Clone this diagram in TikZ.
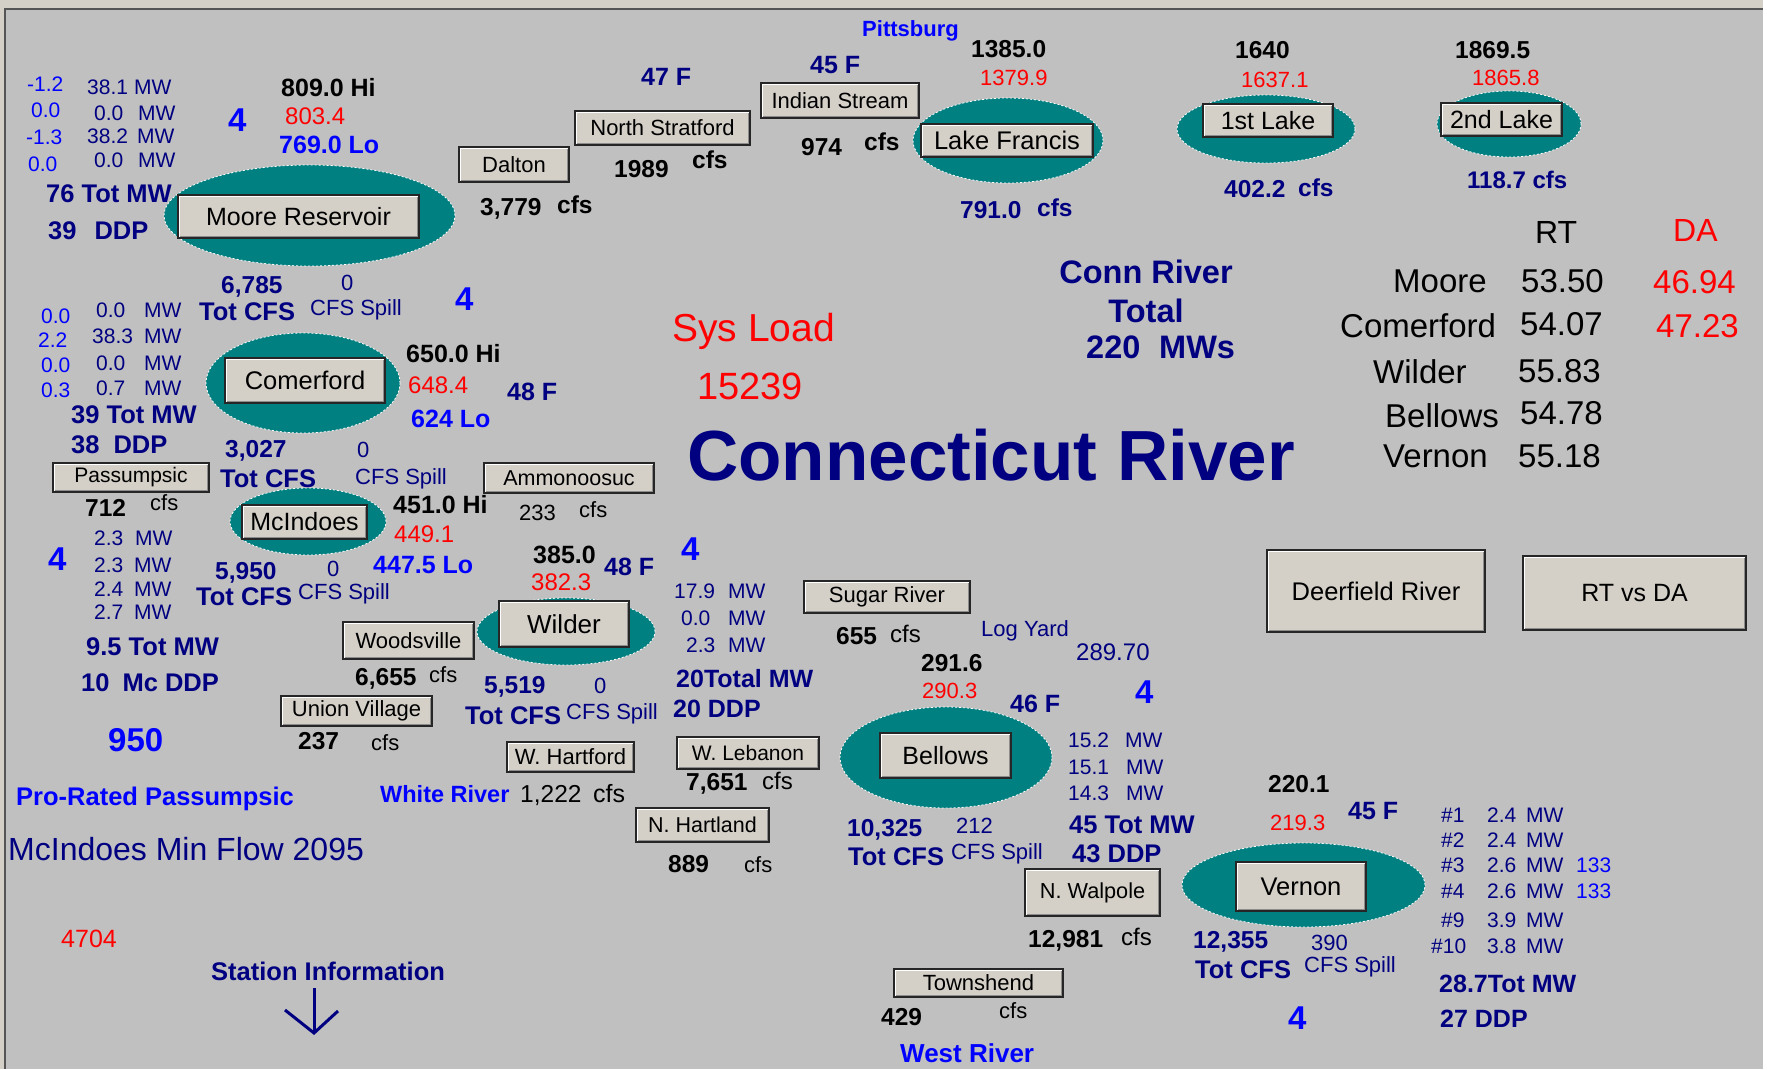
\documentclass[tikz,border=0pt]{standalone}
\usepackage{fontspec}
\setmainfont{Liberation Sans}
\usetikzlibrary{shapes.geometric}
\newcommand\fsz[1]{\fontsize{#1}{#1}\selectfont}
\definecolor{bgc}{HTML}{C0C0C0}
\definecolor{pondc}{HTML}{008080}
\definecolor{navyc}{HTML}{000080}
\definecolor{bluec}{HTML}{0000FF}
\definecolor{redc}{HTML}{FF0000}
\definecolor{btnface}{HTML}{D4D0C8}
\definecolor{framec}{HTML}{555555}
\tikzset{
  pond/.style={ellipse,fill=pondc,draw=white,dash pattern=on 2pt off 2pt,line width=0.8pt,inner sep=0pt},
  btn/.style={draw=black!85,fill=btnface,line width=1.2pt,inner sep=0pt,font=\fsz{#1},text=black,
    path picture={
      \draw[white,line width=1.5pt] ([shift={(1.5pt,1.5pt)}]path picture bounding box.south west) |- ([shift={(-1.5pt,-1.5pt)}]path picture bounding box.north east);
      \draw[black!45,line width=1.5pt] ([shift={(1.5pt,1.5pt)}]path picture bounding box.south west) -| ([shift={(-1.5pt,-1.5pt)}]path picture bounding box.north east);
    }},
  btn/.default=22,
  kb/.style={anchor=base west,inner sep=0pt,text=black,font=\fsz{#1}\bfseries}, kb/.default=24.5,
  nb/.style={anchor=base west,inner sep=0pt,text=navyc,font=\fsz{#1}\bfseries}, nb/.default=25.5,
  bb/.style={anchor=base west,inner sep=0pt,text=bluec,font=\fsz{#1}\bfseries}, bb/.default=25,
  rr/.style={anchor=base west,inner sep=0pt,text=redc,font=\fsz{#1}}, rr/.default=23,
  nr/.style={anchor=base west,inner sep=0pt,text=navyc,font=\fsz{#1}}, nr/.default=21,
  br/.style={anchor=base west,inner sep=0pt,text=bluec,font=\fsz{#1}}, br/.default=21,
  kr/.style={anchor=base west,inner sep=0pt,text=black,font=\fsz{#1}}, kr/.default=22,
}
\begin{document}
\begin{tikzpicture}[x=1pt,y=-1pt]
\useasboundingbox (0,0) rectangle (1767,1069);
% frame
\fill[bgc] (0,0) rectangle (1767,1069);
\fill[btnface] (0,0) rectangle (1767,8);
\fill[btnface] (0,8) rectangle (4,1069);
\draw[framec,line width=2pt] (5,1069) -- (5,9) -- (1763,9);
\fill[white] (1763,0) rectangle (1767,1069);

% reservoirs
\node[pond,minimum width=291pt,minimum height=101pt] (eMoore) at (309.5,215.5) {};
\node[pond,minimum width=190pt,minimum height=85pt] (eFrancis) at (1008,140.5) {};
\node[pond,minimum width=178pt,minimum height=68pt] (eFirst) at (1266,129) {};
\node[pond,minimum width=144pt,minimum height=66pt] (eSecond) at (1509,124) {};
\node[pond,minimum width=194pt,minimum height=100pt] (eComer) at (303,383) {};
\node[pond,minimum width=156pt,minimum height=67pt] (eMcInd) at (308,521.5) {};
\node[pond,minimum width=178pt,minimum height=67pt] (eWilder) at (566,631.5) {};
\node[pond,minimum width=212pt,minimum height=101pt] (eBellows) at (946,757.5) {};
\node[pond,minimum width=243pt,minimum height=84pt] (eVernon) at (1303.5,885) {};

% buttons
\node[btn=25,minimum width=241pt,minimum height=43pt] (bMoore) at (298.5,216.5) {Moore Reservoir};
\node[btn,minimum width=110pt,minimum height=35pt] (bDalton) at (514,164.5) {Dalton};
\node[btn,minimum width=175pt,minimum height=34pt] (bNStrat) at (662.5,128) {North Stratford};
\node[btn,minimum width=158pt,minimum height=35pt] (bIndian) at (840,100.5) {Indian Stream};
\node[btn=25.5,minimum width=172pt,minimum height=33pt] (bFrancis) at (1007,140.5) {Lake Francis};
\node[btn=25,minimum width=130pt,minimum height=33pt] (bFirst) at (1268,120.5) {1st Lake};
\node[btn=25,minimum width=121pt,minimum height=33pt] (bSecond) at (1501.5,119.5) {2nd Lake};
\node[btn=25.5,minimum width=160pt,minimum height=45pt] (bComer) at (305,380.5) {Comerford};
\node[btn=21,minimum width=156pt,minimum height=29pt] (bPassu) at (131,477.5) {Passumpsic};
\node[btn=21.5,minimum width=170pt,minimum height=30pt] (bAmmo) at (569,478) {Ammonoosuc};
\node[btn=25,minimum width=125pt,minimum height=34pt] (bMcInd) at (304.5,522) {McIndoes};
\node[btn=26,minimum width=130pt,minimum height=46pt] (bWilder) at (564,624) {Wilder};
\node[btn,minimum width=131pt,minimum height=37pt] (bWoods) at (408.5,640.5) {Woodsville};
\node[btn,minimum width=151pt,minimum height=30pt] (bUnion) at (356.5,711) {Union Village};
\node[btn,minimum width=127pt,minimum height=30pt] (bWHart) at (570.5,757) {W. Hartford};
\node[btn,minimum width=166pt,minimum height=32pt] (bSugar) at (887,597) {Sugar River};
\node[btn=21,minimum width=142pt,minimum height=32pt] (bWLeb) at (748,753) {W. Lebanon};
\node[btn=21.5,minimum width=133pt,minimum height=34pt] (bNHart) at (702.5,825) {N. Hartland};
\node[btn=25,minimum width=131pt,minimum height=45pt] (bBellows) at (945.5,755.5) {Bellows};
\node[btn=25.5,minimum width=130pt,minimum height=49pt] (bVernon) at (1301,886.5) {Vernon};
\node[btn=21.7,minimum width=135pt,minimum height=47pt] (bNWal) at (1092.5,892.5) {N. Walpole};
\node[btn,minimum width=169pt,minimum height=28pt] (bTowns) at (978.5,983) {Townshend};
\node[btn=25.5,minimum width=218pt,minimum height=82pt] (bDeer) at (1376,591) {Deerfield River};
\node[btn=25,minimum width=223pt,minimum height=74pt] (bRTDA) at (1634.5,593) {RT vs DA};

% Moore block
\node[br] (m1) at (27,91) {-1.2};
\node[nr] (m1v) at (87,94) {38.1};
\node[nr] (m1u) at (134,94) {MW};
\node[br] (m2) at (31,117) {0.0};
\node[nr] (m2v) at (94,120) {0.0};
\node[nr] (m2u) at (138,120) {MW};
\node[br] (m3) at (26,144) {-1.3};
\node[nr] (m3v) at (87,143) {38.2};
\node[nr] (m3u) at (137,143) {MW};
\node[br] (m4) at (28,171) {0.0};
\node[nr] (m4v) at (94,167) {0.0};
\node[nr] (m4u) at (138,167) {MW};
\node[nb] (mTot) at (46,202) {76 Tot MW};
\node[nb] (mDDP) at (48,239) {39\hspace{18pt}DDP};
\node[bb=33] (mFour) at (228,131) {4};
\node[kb=25] (mHi) at (281,96) {809.0 Hi};
\node[rr=24] (mEl) at (285,124) {803.4};
\node[bb] (mLo) at (279,153) {769.0 Lo};
\node[kb] (dFlow) at (480,215) {3,779};
\node[kb] (dCfs) at (557,213) {cfs};
\node[nb=24.5] (mCfs) at (221,293) {6,785};
\node[nr=22] (mSp) at (341,290) {0};
\node[bb=33] (cFour) at (455,310) {4};
\node[nb] (mTc) at (199,320) {Tot CFS};
\node[nr=22] (mSl) at (310,315) {CFS Spill};

% top middle
\node[bb=22] (pitt) at (862,36) {Pittsburg};
\node[kb] (fHi) at (971,57) {1385.0};
\node[rr=22] (fEl) at (980,85) {1379.9};
\node[nb=25] (t47) at (641,85) {47 F};
\node[nb=25] (t45) at (810,73) {45 F};
\node[kb] (nsF) at (614,177) {1989};
\node[kb] (nsC) at (692,168) {cfs};
\node[kb] (isF) at (801,155) {974};
\node[kb] (isC) at (864,150) {cfs};
\node[nb=24.5] (lfF) at (960,218) {791.0};
\node[nb=24.5] (lfC) at (1037,216) {cfs};

% top right
\node[kb] (l1Hi) at (1235,58) {1640};
\node[rr=22] (l1El) at (1241,87) {1637.1};
\node[nb=24.5] (l1F) at (1224,197) {402.2};
\node[nb=24.5] (l1C) at (1298,196) {cfs};
\node[kb] (l2Hi) at (1455,58) {1869.5};
\node[rr=22] (l2El) at (1472,85) {1865.8};
\node[nb=24] (l2F) at (1467,188) {118.7 cfs};

% RT / DA table
\node[kr=32] (hRT) at (1535,243) {RT};
\node[rr=32] (hDA) at (1673,241) {DA};
\node[kr=33] (rMoore) at (1393,292) {Moore};
\node[kr=33] (vMoore) at (1521,292) {53.50};
\node[rr=33] (dMoore) at (1653,293) {46.94};
\node[kr=33] (rComer) at (1340,337) {Comerford};
\node[kr=33] (vComer) at (1520,335) {54.07};
\node[rr=33] (dComer) at (1656,337) {47.23};
\node[kr=33] (rWilder) at (1373,383) {Wilder};
\node[kr=33] (vWilder) at (1518,382) {55.83};
\node[kr=33] (rBellows) at (1385,427) {Bellows};
\node[kr=33] (vBellows) at (1520,424) {54.78};
\node[kr=33] (rVernon) at (1383,467) {Vernon};
\node[kr=33] (vVernon) at (1518,467) {55.18};

% centre titles
\node[nb=32.5,anchor=base] (cr1) at (1146,283) {Conn River};
\node[nb=32.5,anchor=base] (cr2) at (1146,322) {Total};
\node[nb=32.5] (cr3) at (1086,358) {220};
\node[nb=32.5] (cr4) at (1159,358) {MWs};
\node[rr=39] (sys1) at (672,341) {Sys Load};
\node[rr=38] (sys2) at (697,399) {15239};
\node[nb=71] (title) at (687,480) {Connecticut River};

% Comerford block
\node[br] (c1) at (41,323) {0.0};
\node[nr] (c1v) at (96,317) {0.0};
\node[nr] (c1u) at (144,317) {MW};
\node[br] (c2) at (38,347) {2.2};
\node[nr] (c2v) at (92,343) {38.3};
\node[nr] (c2u) at (144,343) {MW};
\node[br] (c3) at (41,372) {0.0};
\node[nr] (c3v) at (96,370) {0.0};
\node[nr] (c3u) at (144,370) {MW};
\node[br] (c4) at (41,397) {0.3};
\node[nr] (c4v) at (96,395) {0.7};
\node[nr] (c4u) at (144,395) {MW};
\node[kb=25] (cHi) at (406,362) {650.0 Hi};
\node[rr=24] (cEl) at (408,393) {648.4};
\node[nb=25] (cF) at (507,400) {48 F};
\node[bb] (cLo) at (411,427) {624 Lo};
\node[nb] (cTot) at (71,423) {39 Tot MW};
\node[nb] (cDDP) at (71,453) {38\hspace{14pt}DDP};
\node[nb=24.5] (cCfs) at (225,457) {3,027};
\node[nr=22] (cSp) at (357,457) {0};
\node[nb] (cTc) at (220,487) {Tot CFS};
\node[nr=22] (cSl) at (355,484) {CFS Spill};
\node[kb] (pF) at (85,516) {712};
\node[kr] (pC) at (150,510) {cfs};
\node[kb=25] (iHi) at (393,513) {451.0 Hi};
\node[rr=24] (iEl) at (394,542) {449.1};
\node[kr] (aF) at (519,520) {233};
\node[kr] (aC) at (579,517) {cfs};
\node[bb] (iLo) at (373,573) {447.5 Lo};

% McIndoes / Wilder block
\node[bb=33] (iFour) at (48,570) {4};
\node[nr] (i1v) at (94,545) {2.3};
\node[nr] (i1u) at (135,545) {MW};
\node[nr] (i2v) at (94,572) {2.3};
\node[nr] (i2u) at (134,572) {MW};
\node[nr] (i3v) at (94,596) {2.4};
\node[nr] (i3u) at (134,596) {MW};
\node[nr] (i4v) at (94,619) {2.7};
\node[nr] (i4u) at (134,619) {MW};
\node[nb=24.5] (iCfs) at (215,579) {5,950};
\node[nr=22] (iSp) at (327,576) {0};
\node[nb] (iTc) at (196,605) {Tot CFS};
\node[nr=22] (iSl) at (298,599) {CFS Spill};
\node[nb] (iTot) at (86,655) {9.5 Tot MW};
\node[nb] (iDDP) at (81,691) {10\hspace{13pt}Mc DDP};
\node[kb=25] (wHi) at (533,563) {385.0};
\node[rr=24] (wEl) at (531,590) {382.3};
\node[nb=25] (wF) at (604,575) {48 F};
\node[bb=33] (wFour) at (681,560) {4};
\node[kb] (woF) at (355,685) {6,655};
\node[kr] (woC) at (429,682) {cfs};
\node[nb=24.5] (wCfs) at (484,693) {5,519};
\node[nr=22] (wSp) at (594,693) {0};
\node[nb] (wTc) at (465,724) {Tot CFS};
\node[nr=22] (wSl) at (566,719) {CFS Spill};
\node[kb] (uF) at (298,749) {237};
\node[kr] (uC) at (371,750) {cfs};
\node[bb=33] (n950) at (108,751) {950};
\node[bb=25.5] (proR) at (16,805) {Pro-Rated Passumpsic};
\node[bb=23.5] (whR) at (380,802) {White River};
\node[kr=24.5] (whF) at (520,802) {1,222};
\node[kr=25] (whC) at (593,802) {cfs};
\node[nr=32] (minF) at (8,860) {McIndoes Min Flow 2095};
\node[rr=25] (n4704) at (61,947) {4704};
\node[nb] (stInfo) at (211,980) {Station Information};
\coordinate (arT) at (314,988);
\coordinate (arB) at (314,1033);
\coordinate (arL) at (285,1010);
\coordinate (arR) at (338,1011);
\draw[navyc,line width=3pt] (arT) -- (arB);
\draw[navyc,line width=3pt,line join=miter] (arL) -- (arB) -- (arR);

% Wilder units / Bellows block
\node[nr] (w1v) at (674,598) {17.9};
\node[nr] (w1u) at (728,598) {MW};
\node[nr] (w2v) at (681,625) {0.0};
\node[nr] (w2u) at (728,625) {MW};
\node[nr] (w3v) at (686,652) {2.3};
\node[nr] (w3u) at (728,652) {MW};
\node[nb=25] (wTot) at (676,687) {20Total MW};
\node[nb=25] (wDDP) at (673,717) {20 DDP};
\node[kb] (sF) at (836,644) {655};
\node[kr=24] (sC) at (890,642) {cfs};
\node[nr=22] (logY) at (981,636) {Log Yard};
\node[nr=24] (logV) at (1076,660) {289.70};
\node[kb] (bHi) at (921,671) {291.6};
\node[rr=22] (bEl) at (922,698) {290.3};
\node[nb=25] (bF) at (1010,712) {46 F};
\node[bb=33] (bFour) at (1135,703) {4};
\node[kb] (wlF) at (686,790) {7,651};
\node[kr=24] (wlC) at (762,789) {cfs};
\node[kb] (nhF) at (668,872) {889};
\node[kr] (nhC) at (744,872) {cfs};
\node[nb=24.5] (bCfs) at (847,836) {10,325};
\node[nr=22] (bSp) at (956,833) {212};
\node[nb] (bTc) at (848,865) {Tot CFS};
\node[nr=22] (bSl) at (951,859) {CFS Spill};
\node[nr] (b1v) at (1068,747) {15.2};
\node[nr] (b1u) at (1125,747) {MW};
\node[nr] (b2v) at (1068,774) {15.1};
\node[nr] (b2u) at (1126,774) {MW};
\node[nr] (b3v) at (1068,800) {14.3};
\node[nr] (b3u) at (1126,800) {MW};
\node[nb] (bTot) at (1069,833) {45 Tot MW};
\node[nb] (bDDP) at (1072,862) {43 DDP};

% Vernon block
\node[kb] (vHi) at (1268,792) {220.1};
\node[rr=22] (vEl) at (1270,830) {219.3};
\node[nb=25] (vF) at (1348,819) {45 F};
\node[kb] (nwF) at (1028,947) {12,981};
\node[kr=24] (nwC) at (1121,945) {cfs};
\node[nb=24.5] (vCfs) at (1193,948) {12,355};
\node[nr=22] (vSp) at (1311,950) {390};
\node[nb] (vTc) at (1195,978) {Tot CFS};
\node[nr=22] (vSl) at (1304,972) {CFS Spill};
\node[bb=33] (vFour) at (1288,1029) {4};
\node[nr] (u1n) at (1441,822) {\#1};
\node[nr] (u1v) at (1487,822) {2.4};
\node[nr] (u1u) at (1526,822) {MW};
\node[nr] (u2n) at (1441,847) {\#2};
\node[nr] (u2v) at (1487,847) {2.4};
\node[nr] (u2u) at (1526,847) {MW};
\node[nr] (u3n) at (1441,872) {\#3};
\node[nr] (u3v) at (1487,872) {2.6};
\node[nr] (u3u) at (1526,872) {MW};
\node[br] (u3x) at (1576,872) {133};
\node[nr] (u4n) at (1441,898) {\#4};
\node[nr] (u4v) at (1487,898) {2.6};
\node[nr] (u4u) at (1526,898) {MW};
\node[br] (u4x) at (1576,898) {133};
\node[nr] (u9n) at (1441,927) {\#9};
\node[nr] (u9v) at (1487,927) {3.9};
\node[nr] (u9u) at (1526,927) {MW};
\node[nr] (u10n) at (1431,953) {\#10};
\node[nr] (u10v) at (1487,953) {3.8};
\node[nr] (u10u) at (1526,953) {MW};
\node[nb=25] (vTot) at (1439,992) {28.7Tot MW};
\node[nb=25] (vDDP) at (1440,1027) {27 DDP};
\node[kb] (tF) at (881,1025) {429};
\node[kr] (tC) at (999,1018) {cfs};
\node[bb=26] (westR) at (900,1062) {West River};
\end{tikzpicture}
\end{document}
